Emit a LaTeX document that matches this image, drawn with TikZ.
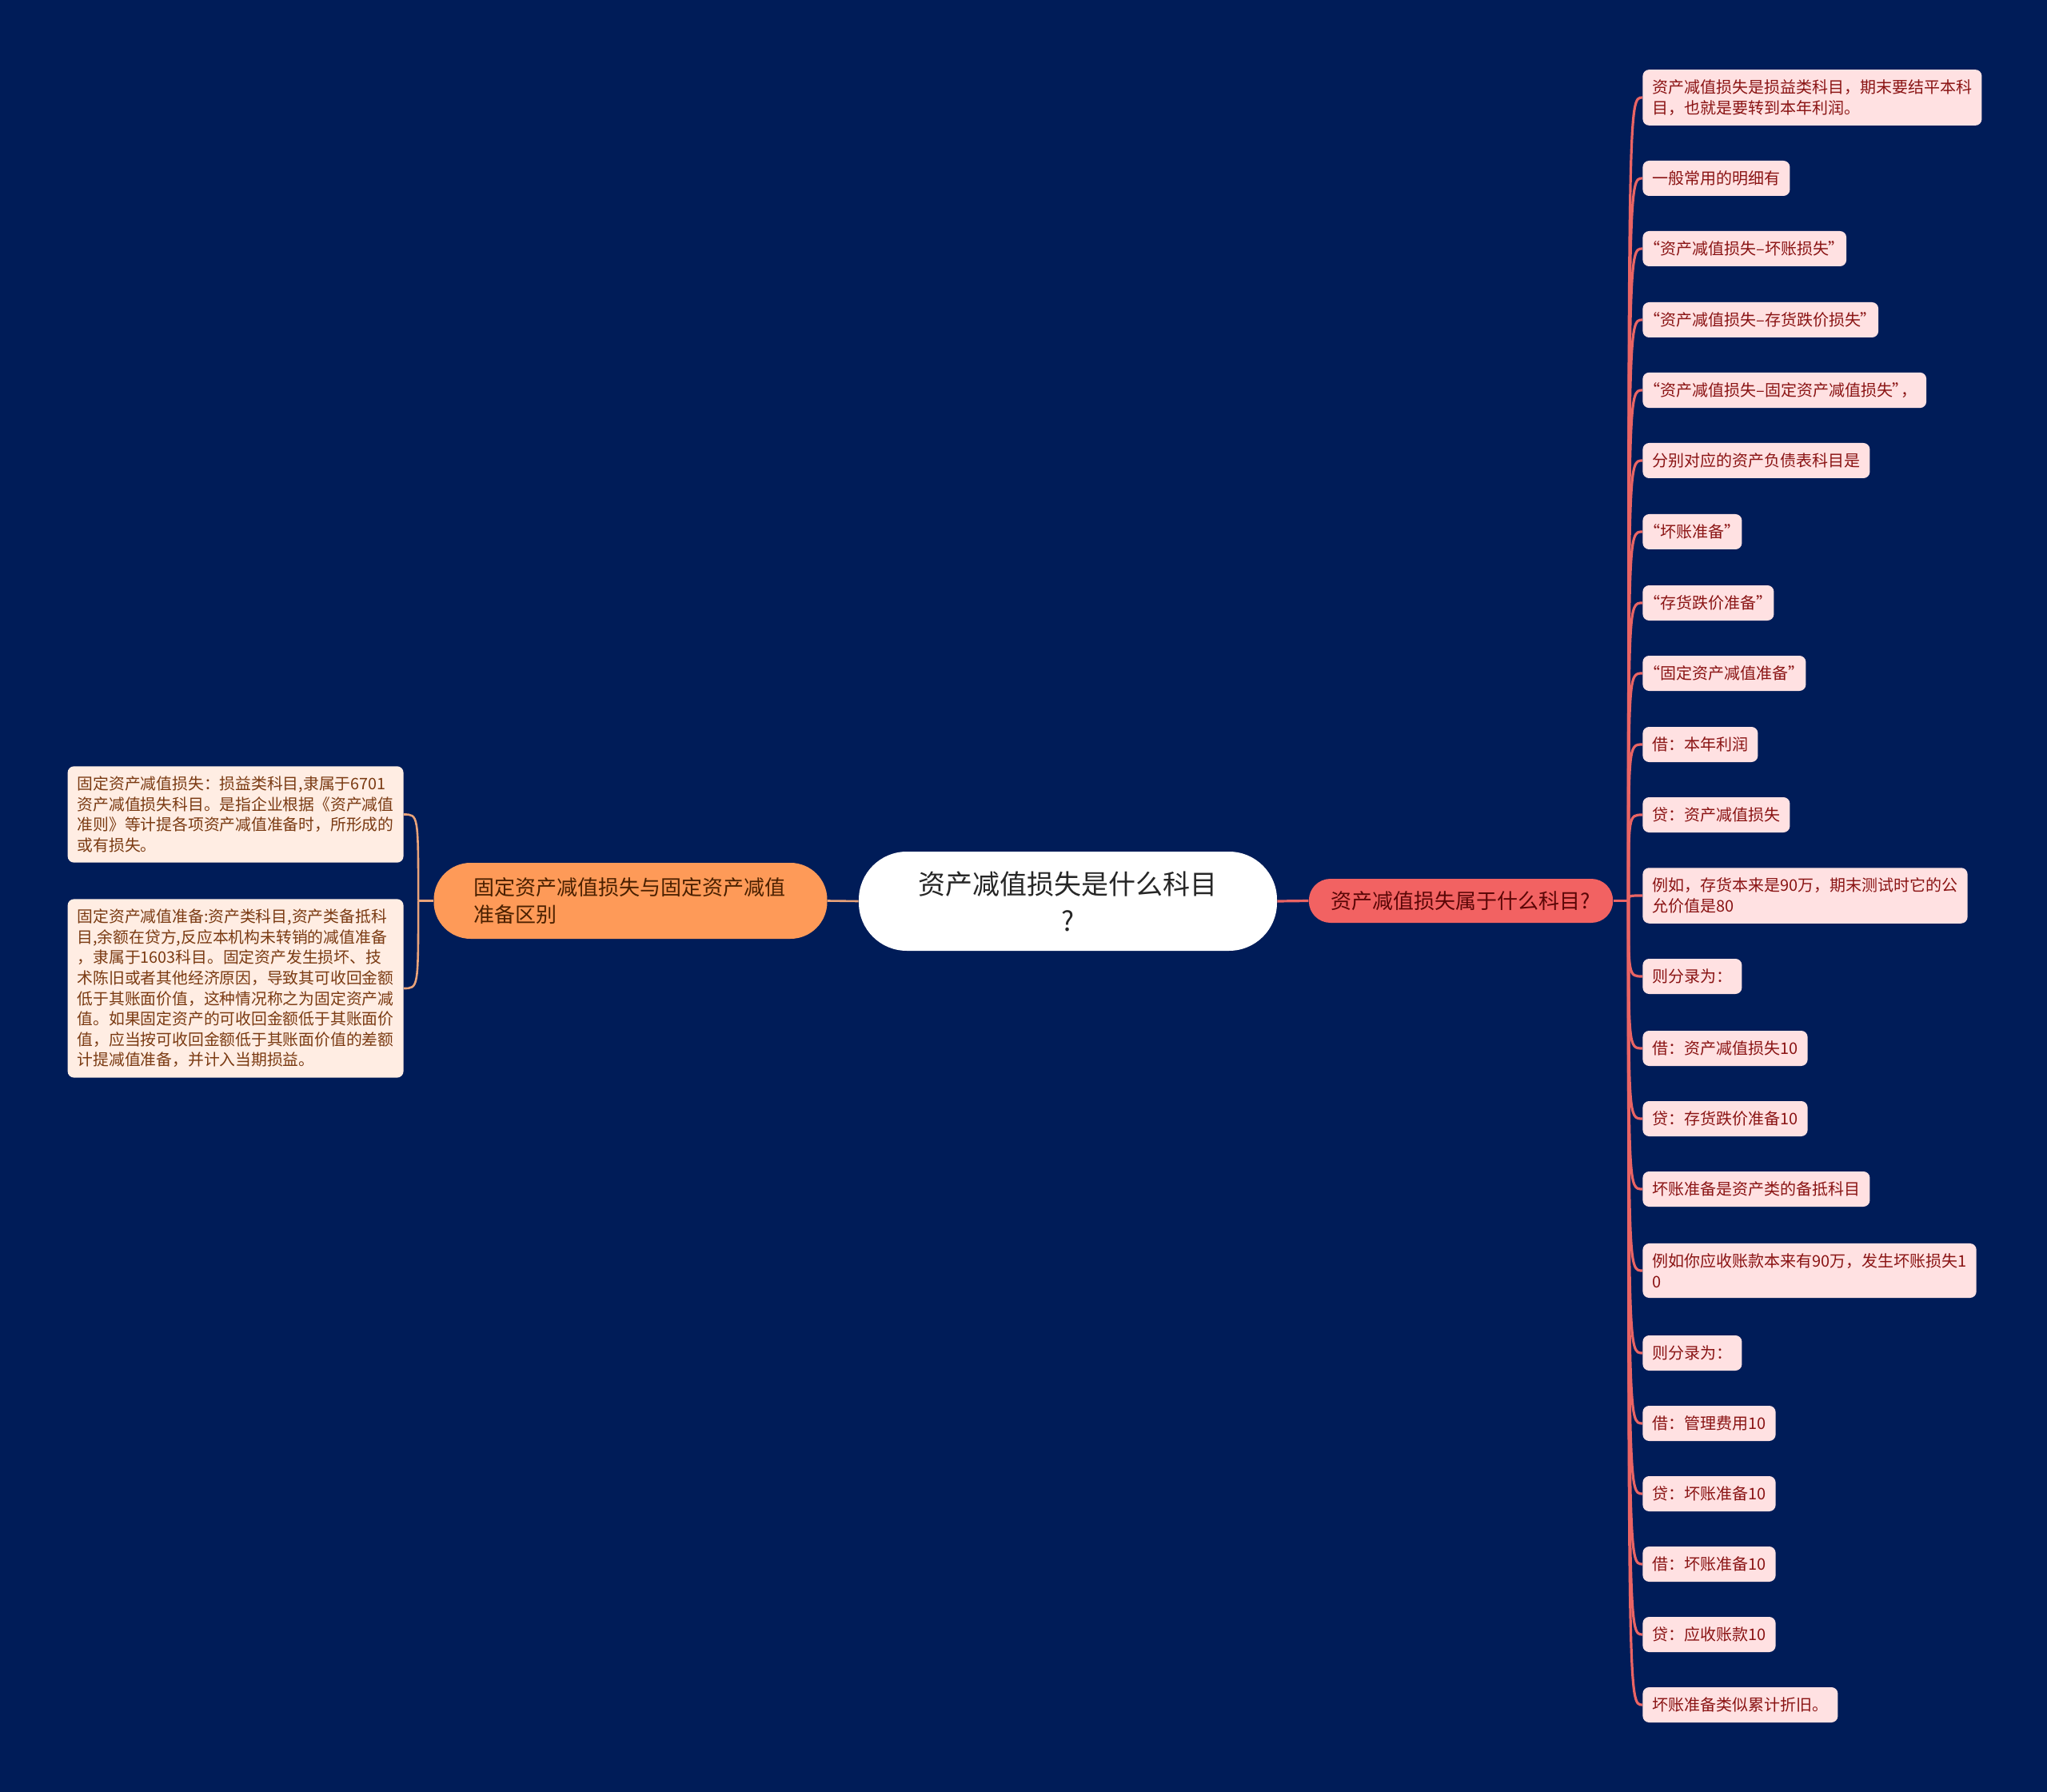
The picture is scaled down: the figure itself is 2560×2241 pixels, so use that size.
\documentclass[tikz,border=0pt]{standalone}
\usepackage{fontspec}
\setmainfont{Noto Sans CJK SC}
\newfontfamily\qfont{Noto Sans CJK SC}[RawFeature=+palt]
\newcommand{\openq}{{\qfont “}}
\newcommand{\closeq}{{\qfont ”}}
\usepackage{tikz}
\usetikzlibrary{calc, positioning}

\definecolor{bgnavy}{HTML}{001C58}
\definecolor{rootink}{HTML}{262626}
\definecolor{peach}{HTML}{FE9A58}
\definecolor{peachink}{HTML}{4A2000}
\definecolor{salmon}{HTML}{F26262}
\definecolor{salmonink}{HTML}{5A0606}
\definecolor{rleaffill}{HTML}{FFE1E2}
\definecolor{rleafink}{HTML}{8A1414}
\definecolor{lleaffill}{HTML}{FFEDE3}
\definecolor{lleafink}{HTML}{7A3A12}
\definecolor{rlinkcol}{HTML}{EA6464}
\definecolor{llinkcol}{HTML}{E9A37A}

\begin{document}
\begin{tikzpicture}[x=0.5pt, y=-0.5pt,
        root/.style={fill=white, text=rootink, rounded corners=30pt,
            minimum width=261.5pt, minimum height=62pt, inner sep=0pt,
            align=center, font=\fontsize{17pt}{23pt}\selectfont},
        lbranch/.style={fill=peach, text=peachink, rounded corners=23pt,
            minimum height=47.5pt, text width=196pt, inner xsep=25pt, inner ysep=0pt,
            align=left, font=\fontsize{13pt}{17pt}\selectfont},
        rbranch/.style={fill=salmon, text=salmonink, rounded corners=13.5pt,
            minimum height=27.5pt, inner xsep=14pt, inner ysep=0pt,
            font=\fontsize{13pt}{17pt}\selectfont},
        rleaf/.style={fill=rleaffill, text=rleafink, rounded corners=4pt,
            minimum height=22pt, inner xsep=6pt, inner ysep=6.3pt, anchor=west,
            align=left, font=\fontsize{10pt}{12.8pt}\selectfont},
        lleaf/.style={fill=lleaffill, text=lleafink, rounded corners=4pt,
            inner xsep=6pt, inner ysep=6.3pt, anchor=east,
            align=left, font=\fontsize{9.9pt}{12.8pt}\selectfont},
        rlink/.style={draw=rlinkcol, line width=1.6pt},
        llink/.style={draw=llinkcol, line width=1.3pt},
    ]
    \path[use as bounding box, fill=bgnavy] (0,0) rectangle (2560,2241);

    \node[root] (root) at (1335.5,1127) {资产减值损失是什么科目\\?};
    \node[lbranch] (lb) at (788.5,1126.5) {固定资产减值损失与固定资产减值\\准备区别};
    \node[rbranch] (rb) at (1827,1126.5) {资产减值损失属于什么科目?};
    \coordinate[left=9.5pt of lb.west] (lj);
    \coordinate[right=9.5pt of rb.east] (rj);

    \node[lleaf] (l1) at (505,1018.5) {固定资产减值损失：损益类科目,隶属于6701\\资产减值损失科目。是指企业根据《资产减值\\准则》等计提各项资产减值准备时，所形成的\\或有损失。};
    \node[lleaf] (l2) at (505,1236) {固定资产减值准备:资产类科目,资产类备抵科\\目,余额在贷方,反应本机构未转销的减值准备\\，隶属于1603科目。固定资产发生损坏、技\\术陈旧或者其他经济原因，导致其可收回金额\\低于其账面价值，这种情况称之为固定资产减\\值。如果固定资产的可收回金额低于其账面价\\值，应当按可收回金额低于其账面价值的差额\\计提减值准备，并计入当期损益。};

    \foreach \n/\yy/\txt in {
        1/122/{资产减值损失是损益类科目，期末要结平本科\\目，也就是要转到本年利润。},
        2/223/{一般常用的明细有},
        3/311/{\openq 资产减值损失–坏账损失\closeq},
        4/400/{\openq 资产减值损失–存货跌价损失\closeq},
        5/488/{\openq 资产减值损失–固定资产减值损失\closeq，},
        6/576/{分别对应的资产负债表科目是},
        7/665/{\openq 坏账准备\closeq},
        8/754/{\openq 存货跌价准备\closeq},
        9/842/{\openq 固定资产减值准备\closeq},
        10/931/{借：本年利润},
        11/1019/{贷：资产减值损失},
        12/1120/{例如，存货本来是90万，期末测试时它的公\\允价值是80},
        13/1221/{则分录为：},
        14/1311/{借：资产减值损失10},
        15/1399/{贷：存货跌价准备10},
        16/1487/{坏账准备是资产类的备抵科目},
        17/1589/{例如你应收账款本来有90万，发生坏账损失1\\0},
        18/1692/{则分录为：},
        19/1780/{借：管理费用10},
        20/1868/{贷：坏账准备10},
        21/1956/{借：坏账准备10},
        22/2044/{贷：应收账款10},
        23/2132/{坏账准备类似累计折旧。}}
        \node[rleaf] (r\n) at (2054,\yy) {\txt};

    \draw[llink] (root.west) -- (lb.east);
    \draw[llink] (lb.west) -- (lj);
    \foreach \n in {1,2}
        \draw[llink] (lj) .. controls (lj |- l\n.east) .. (l\n.east);

    \draw[rlink] (root.east) -- (rb.west);
    \draw[rlink] (rb.east) -- (rj);
    \foreach \n in {1,...,23}
        \draw[rlink] (rj) .. controls (rj |- r\n.west) .. (r\n.west);
\end{tikzpicture}
\end{document}
